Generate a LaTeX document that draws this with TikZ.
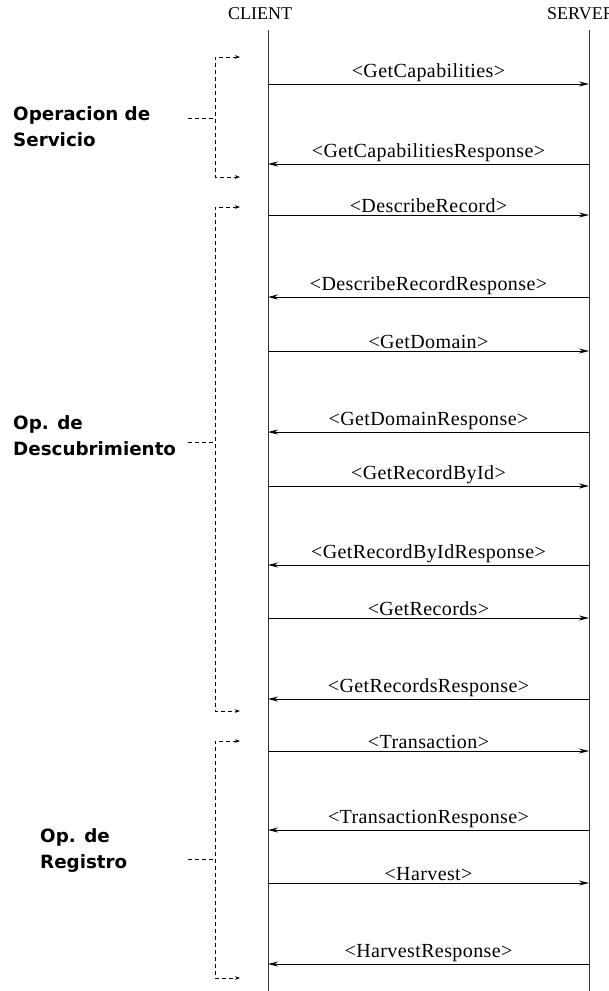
\documentclass[tikz,border=0pt]{standalone}
\usepackage{fontspec}
\setmainfont{Liberation Serif}
\newfontfamily\msgfont[LetterSpace=2]{Liberation Serif}
\newfontfamily\grpfont{DejaVu Sans}
\usetikzlibrary{arrows.meta}
\tikzset{
  head/.style={font=\fontsize{18}{20}\selectfont, inner sep=0pt},
  life/.style={line width=1pt, black!80},
  msg/.style={line width=1pt, -{Stealth[length=10pt,width=5pt]}},
  lbl/.style={above=2pt, inner sep=0pt, font=\msgfont\fontsize{20}{22}\selectfont},
  grp/.style={line width=0.8pt, dash pattern=on 4pt off 3pt},
  grptip/.style={{Stealth[length=5pt,width=3.5pt]}-{Stealth[length=5pt,width=3.5pt]}},
  grplbl/.style={anchor=west, align=left, inner sep=0pt,
    font=\grpfont\bfseries\fontsize{18.3}{26}\selectfont}
}
\begin{document}
\begin{tikzpicture}[x=1pt,y=-1pt]
\useasboundingbox (0,0) rectangle (609,991);
\clip (0,0) rectangle (609,991);

% lifeline headers and lines
\node[head] (client) at (260,14) {CLIENT};
\node[head, anchor=west] (server) at (547,14) {SERVER};
\coordinate (ctop) at (268,30);
\coordinate (cbot) at (268,991);
\coordinate (stop) at (589,30);
\coordinate (sbot) at (589,991);
\draw[life] (ctop) -- (cbot);
\draw[life] (stop) -- (sbot);

% requests go right, responses come back left
\foreach \y/\txt [count=\i] in {
  84/GetCapabilities, 164/GetCapabilitiesResponse,
  215/DescribeRecord, 297/DescribeRecordResponse,
  351/GetDomain, 432/GetDomainResponse,
  486/GetRecordById, 565/GetRecordByIdResponse,
  618/GetRecords, 699/GetRecordsResponse,
  751/Transaction, 830/TransactionResponse,
  883/Harvest, 964/HarvestResponse}
{
  \coordinate (c\i) at (268,\y);
  \coordinate (s\i) at (589,\y);
  \ifodd\i
    \draw[msg] (c\i) -- node[lbl] {<\txt>} (s\i);
  \else
    \draw[msg] (s\i) -- node[lbl] {<\txt>} (c\i);
  \fi
}

% operation groups
\foreach \n/\top/\bot/\mid/\lx/\ly/\txt in {
  1/57/177/118/13/127/{Operacion de\\Servicio},
  2/207/711/442/13/436/{Op. de\\Descubrimiento},
  3/741/978/859/40/851/{Op. de\\Registro}}
{
  \node[grplbl] (g\n) at (\lx,\ly) {\txt};
  \coordinate (g\n a) at (240,\top);
  \coordinate (g\n b) at (215,\top);
  \coordinate (g\n c) at (215,\bot);
  \coordinate (g\n d) at (240,\bot);
  \coordinate (g\n m) at (215,\mid);
  \coordinate (g\n e) at (188,\mid);
  \draw[grp, grptip] (g\n a) -- (g\n b) -- (g\n c) -- (g\n d);
  \draw[grp] (g\n e) -- (g\n m);
}
\end{tikzpicture}
\end{document}
